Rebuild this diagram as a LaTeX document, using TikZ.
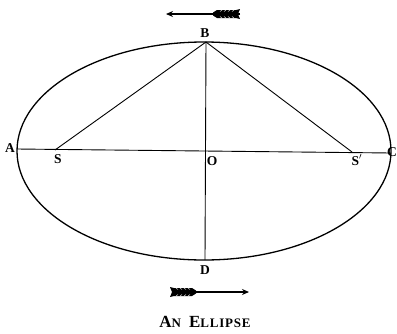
\documentclass[tikz,border=0pt]{standalone}
\usepackage{fontspec}
\setmainfont{Liberation Serif}
\usetikzlibrary{arrows.meta}
\begin{document}
\begin{tikzpicture}[x=1pt,y=-1pt,
  lbl/.style={font=\fontsize{13.5}{13.5}\bfseries\selectfont, inner sep=0pt},
  geo/.style={line width=0.9pt},
  shaft/.style={line width=1.1pt, -{Stealth[length=7pt,width=6pt]}},
  fletch/.style={fill=black}]
\useasboundingbox (0,0) rectangle (397,333);
% ellipse
\draw[line width=1.3pt] (204,151) ellipse [x radius=187, y radius=109];
\coordinate (A) at (17,149);
\coordinate (C) at (391,153);
\coordinate (S) at (55,150);
\coordinate (Sp) at (352,152);
\coordinate (O) at (205,151);
\coordinate (B) at (206,42);
\coordinate (D) at (205,260);
\draw[geo] (A) -- (C);
\draw[geo] (B) -- (D);
\draw[geo] (S) -- (B) -- (Sp);
% labels
\node[lbl] (lA) at (10,148) {A};
\node[lbl] (lS) at (58,159) {S};
\node[lbl] (lO) at (212,161) {O};
\node[lbl] (lSp) at (357,160) {S$'$};
\node[lbl] (lC) at (392,152) {C};
\node[lbl] (lB) at (205,33) {B};
\node[lbl] (lD) at (205,270) {D};
% top arrow (pointing left)
\coordinate (t1) at (240,14);
\coordinate (t2) at (166,14);
\draw[shaft] (t1) -- (t2);
\fill[fletch] (213,12.5) -- (217,10) -- (236,10) -- (240,9) -- (238,14) -- (240,19) -- (236,18) -- (217,18) -- (213,15.5) -- cycle;
\foreach \x in {222,226,230,234} \draw[white,line width=0.4pt] (\x,10) -- (\x-2,11.5);
\foreach \x in {222,226,230,234} \draw[white,line width=0.4pt] (\x,18) -- (\x-2,16.5);
% bottom arrow (pointing right)
\coordinate (b1) at (172,292);
\coordinate (b2) at (249,292);
\draw[shaft] (b1) -- (b2);
\fill[fletch] (196,290.5) -- (192,288) -- (174,288) -- (170,287) -- (172,292) -- (170,297) -- (174,296) -- (192,296) -- (196,293.5) -- cycle;
\foreach \x in {176,180,184,188} \draw[white,line width=0.4pt] (\x,288) -- (\x+2,289.5);
\foreach \x in {176,180,184,188} \draw[white,line width=0.4pt] (\x,296) -- (\x+2,294.5);
% caption
\node[font=\bfseries\fontsize{17}{17}\selectfont, inner sep=0pt] (cap) at (205,322) {\addfontfeature{LetterSpace=6}A{\fontsize{13}{13}\selectfont N}\hspace{8pt}E{\fontsize{13}{13}\selectfont LLIPSE}};
\end{tikzpicture}
\end{document}
